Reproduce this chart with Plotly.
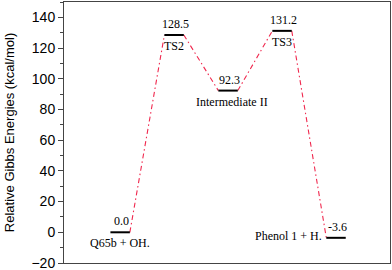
import plotly.graph_objects as go

# Data
positions = [1, 2, 3, 4, 5]
energies = [0.0, 128.5, 92.3, 131.2, -3.6]
value_labels = ["0.0", "128.5", "92.3", "131.2", "-3.6"]
state_names = ["Q65b + OH.", "TS2", "Intermediate II", "TS3", "Phenol 1 + H."]
y_ticks = [-20, 0, 20, 40, 60, 80, 100, 120, 140]

HALF = 0.18
SERIF = "Liberation Serif, Times New Roman, serif"
SANS = "Liberation Sans, Arial, sans-serif"

fig = go.Figure()

# connecting dash-dot line
cx, cy = [], []
for i in range(len(positions) - 1):
    cx += [positions[i] + HALF, positions[i + 1] - HALF, None]
    cy += [energies[i], energies[i + 1], None]
fig.add_trace(go.Scatter(x=cx, y=cy, mode="lines",
                         line=dict(color="#f0284e", width=1.1, dash="5px,3px,1.5px,3px"),
                         hoverinfo="skip", showlegend=False))

# level segments
for p, e in zip(positions, energies):
    fig.add_trace(go.Scatter(x=[p - HALF, p + HALF], y=[e, e], mode="lines",
                             line=dict(color="black", width=2),
                             hoverinfo="skip", showlegend=False))

# annotations
for i, (p, e, v, n) in enumerate(zip(positions, energies, value_labels, state_names)):
    fig.add_annotation(x=p, y=e, text=v, showarrow=False, xref="x", yref="y",
                       yanchor="bottom", yshift=2, xshift=1,
                       font=dict(family=SERIF, size=12, color="black"))
    if i == len(positions) - 1:
        fig.add_annotation(x=p - HALF, y=e, text=n, showarrow=False, xref="x", yref="y",
                           xanchor="right", yanchor="middle", xshift=-2, yshift=2,
                           font=dict(family=SERIF, size=12, color="black"))
    else:
        fig.add_annotation(x=p, y=e, text=n, showarrow=False, xref="x", yref="y",
                           yanchor="top", yshift=-2, xshift=(4 if i == 2 else 0),
                           font=dict(family=SERIF, size=12, color="black"))

fig.update_layout(
    width=392, height=270,
    margin=dict(l=64, r=2, t=2, b=7),
    paper_bgcolor="white", plot_bgcolor="white",
    showlegend=False,
    xaxis=dict(range=[-0.04, 6.0], showgrid=False, zeroline=False,
               showticklabels=False, ticks="", automargin=False,
               showline=True, linecolor="#444", linewidth=1, mirror=True),
    yaxis=dict(range=[-20, 150], showgrid=False, zeroline=False, automargin=False,
               tickvals=y_ticks, ticks="outside", ticklen=5, tickcolor="#444",
               ticklabeloverflow="allow",
               tickfont=dict(family=SANS, size=14, color="black"),
               minor=dict(dtick=10, tick0=0, ticks="outside", ticklen=3, tickcolor="#444"),
               showline=True, linecolor="#444", linewidth=1, mirror=True,
               title=dict(text="Relative Gibbs Energies (kcal/mol)",
                          font=dict(family=SANS, size=13, color="black"), standoff=13)),
)

fig.write_html("out.html", config={"displayModeBar": False},
               post_script="document.body.style.margin='0';document.body.style.overflow='hidden';")
